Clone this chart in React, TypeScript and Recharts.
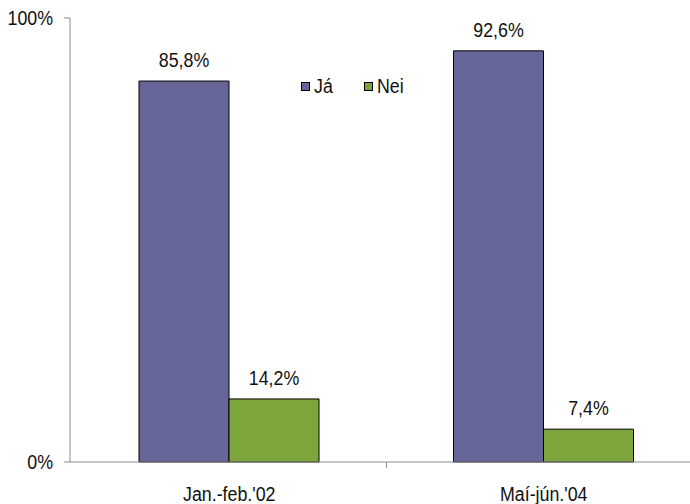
import React from "react";
import { Bar, BarChart, LabelList, XAxis, YAxis } from "recharts";

const categories = ["Jan.-feb.'02", "Maí-jún.'04"];
const jaValues = [85.8, 92.6];
const neiValues = [14.2, 7.4];
const yTicks = [0, 100];

const seriesNames = { ja: "Já", nei: "Nei" };
const colors = { ja: "#666699", nei: "#7ea53b" };

const data = categories.map((name, i) => ({
  name,
  ja: jaValues[i],
  nei: neiValues[i],
}));

// no narrow font installed, so squeeze Liberation Sans horizontally
const FONT = "'Liberation Sans', Arial, sans-serif";
const SQUEEZE = 0.89;
const AXIS = "#8c8c8c";
const TEXT = "#111";

const fmt = (v: any) => `${Number(v).toFixed(1).replace(".", ",")}%`;

function NarrowText({ x, y, anchor = "middle", children }: any) {
  return (
    <text
      transform={`translate(${x},${y}) scale(${SQUEEZE},1)`}
      x={0}
      y={0}
      textAnchor={anchor}
      fontFamily={FONT}
      fontSize={20}
      fill={TEXT}
    >
      {children}
    </text>
  );
}

function CategoryTick(props: any) {
  const { x, y, payload } = props;
  const half = payload?.offset || 157.25;
  return (
    <g>
      <line x1={x + half} y1={y - 8} x2={x + half} y2={y - 2} stroke={AXIS} />
      <NarrowText x={x} y={y + 31}>
        {payload.value}
      </NarrowText>
    </g>
  );
}

function PercentTick(props: any) {
  const { x, y, payload } = props;
  return (
    <NarrowText x={x} y={y + 7} anchor="end">
      {`${payload.value}%`}
    </NarrowText>
  );
}

function BarValue(props: any) {
  const { x, y, width, value } = props;
  return (
    <NarrowText x={x + width / 2} y={y - 14}>
      {fmt(value)}
    </NarrowText>
  );
}

function LegendBox() {
  const items = [
    { key: "ja", label: seriesNames.ja, color: colors.ja, left: 301 },
    { key: "nei", label: seriesNames.nei, color: colors.nei, left: 364 },
  ];
  return (
    <>
      {items.map((it) => (
        <div key={it.key} style={{ position: "absolute", left: it.left, top: 76, height: 20 }}>
          <span
            style={{
              position: "absolute",
              left: 0,
              top: 6,
              width: 7,
              height: 7,
              background: it.color,
              border: "1px solid #000",
            }}
          />
          <span
            style={{
              position: "absolute",
              left: 13,
              top: 0,
              fontFamily: FONT,
              fontSize: 20,
              lineHeight: "20px",
              color: TEXT,
              whiteSpace: "nowrap",
              transform: `scaleX(${SQUEEZE})`,
              transformOrigin: "left",
            }}
          >
            {it.label}
          </span>
        </div>
      ))}
    </>
  );
}

export default function App() {
  return (
    <div
      style={{
        position: "fixed",
        left: 0,
        top: 0,
        width: 690,
        height: 504,
        overflow: "hidden",
        background: "#fff",
      }}
    >
      <BarChart
        width={701}
        height={504}
        data={data}
        margin={{ top: 18, right: 0, bottom: 0, left: 0 }}
        barGap={0}
        barCategoryGap={67}
      >
        <XAxis
          dataKey="name"
          height={42}
          padding={{ left: 2, right: 0 }}
          axisLine={{ stroke: AXIS }}
          tickLine={false}
          tick={<CategoryTick />}
          interval={0}
        />
        <YAxis
          width={70}
          domain={[0, 100]}
          ticks={yTicks}
          axisLine={{ stroke: AXIS }}
          tickLine={{ stroke: AXIS }}
          tickSize={6}
          tickMargin={11}
          tick={<PercentTick />}
        />
        <Bar dataKey="ja" name={seriesNames.ja} fill={colors.ja} stroke="#000" strokeWidth={1} isAnimationActive={false}>
          <LabelList dataKey="ja" content={<BarValue />} />
        </Bar>
        <Bar dataKey="nei" name={seriesNames.nei} fill={colors.nei} stroke="#000" strokeWidth={1} isAnimationActive={false}>
          <LabelList dataKey="nei" content={<BarValue />} />
        </Bar>
      </BarChart>
      <LegendBox />
    </div>
  );
}
